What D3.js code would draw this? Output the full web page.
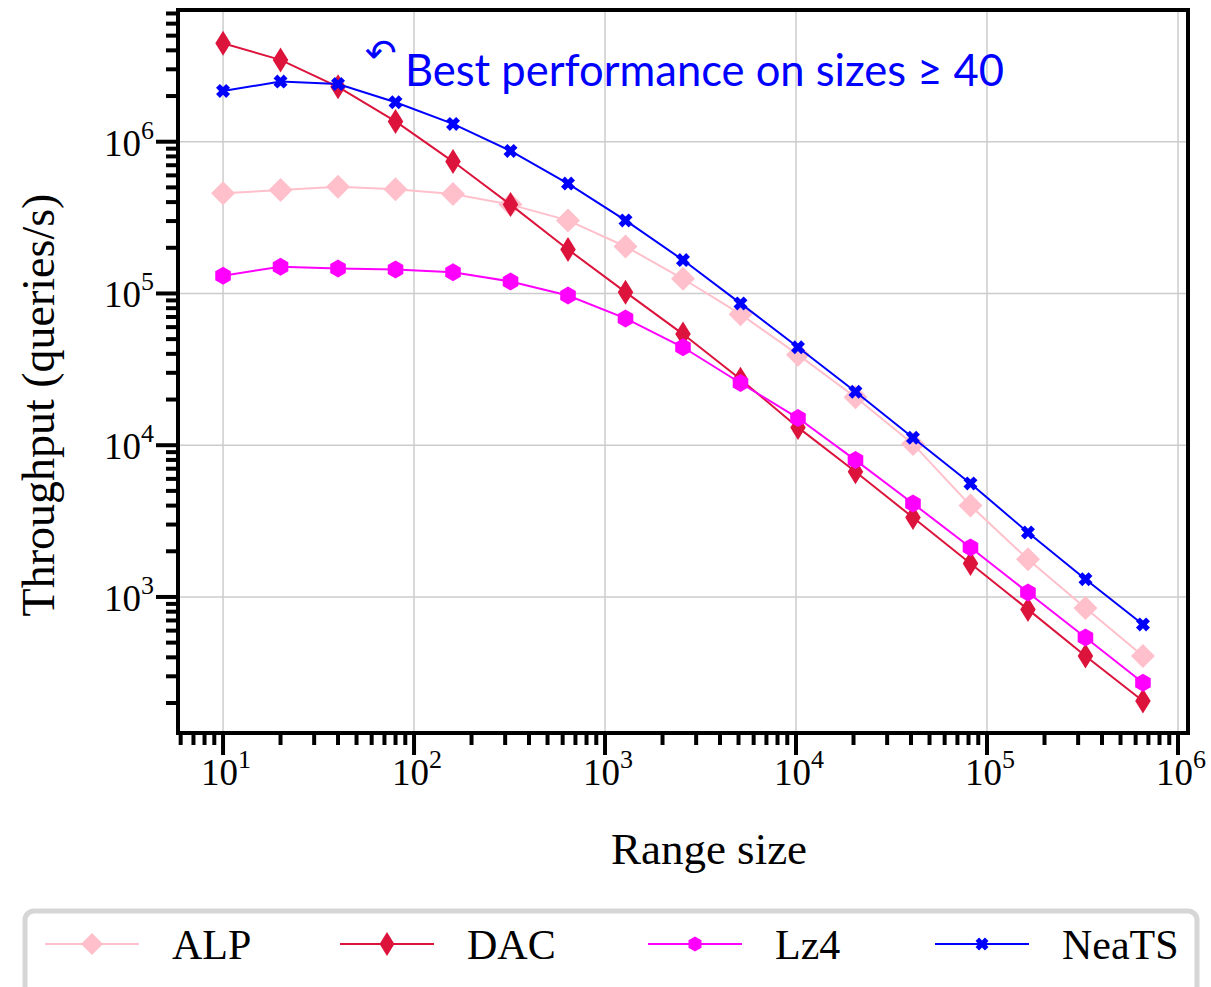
<!DOCTYPE html>
<html>
<head>
<meta charset="utf-8">
<script src="https://cdn.jsdelivr.net/npm/d3@7"></script>
<style>
  body { margin: 0; background: #fff; }
  svg { display: block; }
</style>
</head>
<body>
<div id="chart"></div>
<script>
// range sizes (x) and throughput per method (queries/s)
const rangeSizes = [10, 20, 40, 80, 160, 320, 640, 1280, 2560, 5120, 10240, 20480, 40960, 81920, 163840, 327680, 655360];
const alp = [4.57e5, 4.81e5, 5.05e5, 4.87e5, 4.52e5, 3.85e5, 3.03e5, 2.04e5, 1.25e5, 7.3e4, 3.95e4, 2.07e4, 1.02e4, 4.0e3, 1.77e3, 847, 408];
const dac = [4.46e6, 3.46e6, 2.3e6, 1.36e6, 7.4e5, 3.85e5, 1.95e5, 1.02e5, 5.4e4, 2.72e4, 1.31e4, 6.68e3, 3.34e3, 1.66e3, 828, 408, 206];
const lz4 = [1.31e5, 1.5e5, 1.46e5, 1.44e5, 1.38e5, 1.2e5, 9.7e4, 6.85e4, 4.42e4, 2.57e4, 1.51e4, 7.98e3, 4.13e3, 2.12e3, 1.07e3, 541, 272];
const neats = [2.16e6, 2.49e6, 2.4e6, 1.82e6, 1.31e6, 8.7e5, 5.3e5, 3.03e5, 1.66e5, 8.6e4, 4.42e4, 2.25e4, 1.12e4, 5.6e3, 2.66e3, 1.31e3, 659];

const seriesNames = ["ALP", "DAC", "Lz4", "NeaTS"];
const seriesColors = ["#ffc0cb", "#dc143c", "#ff00ff", "#0000ff"];
const seriesMarkers = ["diamond", "thinDiamond", "hexagon", "cross"];
const seriesValues = [alp, dac, lz4, neats];

const annotationText = "Best performance on sizes \u2265 40";

const width = 1211, height = 987;
const plot = { left: 178, right: 1188, top: 10, bottom: 733 };
const serif = "'Liberation Serif', 'DejaVu Serif', serif";

const svg = d3.select("#chart").append("svg")
    .attr("width", width)
    .attr("height", height);

const x = d3.scaleLog()
    .domain([5.81, 1.128e6])
    .range([plot.left, plot.right]);

const y = d3.scaleLog()
    .domain([10 ** 2.1035, 10 ** 6.868])
    .range([plot.bottom, plot.top]);

const isMajor = d => Math.abs(Math.log10(d) - Math.round(Math.log10(d))) < 1e-9;

// marker path builders, s = half size
function markerPath(type, s) {
    const p = d3.path();
    if (type === "diamond") {
        p.moveTo(0, -s); p.lineTo(s, 0); p.lineTo(0, s); p.lineTo(-s, 0); p.closePath();
    } else if (type === "thinDiamond") {
        const w = s * 0.62;
        p.moveTo(0, -s); p.lineTo(w, 0); p.lineTo(0, s); p.lineTo(-w, 0); p.closePath();
    } else if (type === "hexagon") {
        for (let i = 0; i < 6; i++) {
            const a = Math.PI / 2 + i * Math.PI / 3;
            const px = s * Math.cos(a), py = s * Math.sin(a);
            if (i === 0) p.moveTo(px, py); else p.lineTo(px, py);
        }
        p.closePath();
    } else if (type === "cross") {
        // thick x, arms nearly merged
        const t = s * 0.55;
        const pts = [[0, -t], [s - t, -s], [s, -s + t], [t, 0], [s, s - t], [s - t, s],
                     [0, t], [-s + t, s], [-s, s - t], [-t, 0], [-s, -s + t], [-s + t, -s]];
        pts.forEach((q, i) => i === 0 ? p.moveTo(q[0], q[1]) : p.lineTo(q[0], q[1]));
        p.closePath();
    }
    return p.toString();
}
const plotMarkerSize = { diamond: 12, thinDiamond: 12.5, hexagon: 9, cross: 7 };
const legendMarkerSize = { diamond: 11, thinDiamond: 12, hexagon: 7.5, cross: 6.5 };

// grid
const grid = svg.append("g").attr("class", "grid");
grid.selectAll("line.gx")
    .data(x.ticks().filter(isMajor))
    .enter().append("line")
    .attr("x1", d => x(d)).attr("x2", d => x(d))
    .attr("y1", plot.top).attr("y2", plot.bottom)
    .attr("stroke", "#cccccc").attr("stroke-width", 1.5);
grid.selectAll("line.gy")
    .data(y.ticks().filter(isMajor))
    .enter().append("line")
    .attr("y1", d => y(d)).attr("y2", d => y(d))
    .attr("x1", plot.left).attr("x2", plot.right)
    .attr("stroke", "#cccccc").attr("stroke-width", 1.5);

// series
const line = d3.line()
    .x(d => x(d[0]))
    .y(d => y(d[1]));

seriesNames.forEach((name, i) => {
    const pts = rangeSizes.map((s, j) => [s, seriesValues[i][j]]);
    const g = svg.append("g").attr("class", "series");
    g.append("path")
        .datum(pts)
        .attr("fill", "none")
        .attr("stroke", seriesColors[i])
        .attr("stroke-width", 2)
        .attr("d", line);
    g.selectAll("path.m")
        .data(pts)
        .enter().append("path")
        .attr("transform", d => `translate(${x(d[0])},${y(d[1])})`)
        .attr("d", markerPath(seriesMarkers[i], plotMarkerSize[seriesMarkers[i]]))
        .attr("fill", seriesColors[i]);
});

// frame
svg.append("rect")
    .attr("x", plot.left).attr("y", plot.top)
    .attr("width", plot.right - plot.left)
    .attr("height", plot.bottom - plot.top)
    .attr("fill", "none")
    .attr("stroke", "#000")
    .attr("stroke-width", 4);

// x ticks
const xAxis = svg.append("g").attr("class", "x-axis");
xAxis.selectAll("line")
    .data(x.ticks().filter(d => x(d) >= plot.left && x(d) <= plot.right))
    .enter().append("line")
    .attr("x1", d => x(d)).attr("x2", d => x(d))
    .attr("y1", plot.bottom)
    .attr("y2", d => plot.bottom + (isMajor(d) ? 22 : 12))
    .attr("stroke", "#000").attr("stroke-width", 4);
const xLabels = xAxis.selectAll("text")
    .data(x.ticks().filter(isMajor))
    .enter().append("text")
    .attr("x", d => x(d) + 3)
    .attr("y", 785)
    .attr("text-anchor", "middle")
    .style("font-family", serif)
    .style("font-size", "37px");
xLabels.append("tspan").text("10");
xLabels.append("tspan")
    .attr("dy", -17)
    .style("font-size", "26px")
    .text(d => Math.round(Math.log10(d)));

// y ticks
const yAxis = svg.append("g").attr("class", "y-axis");
yAxis.selectAll("line")
    .data(y.ticks().filter(d => y(d) >= plot.top && y(d) <= plot.bottom))
    .enter().append("line")
    .attr("y1", d => y(d)).attr("y2", d => y(d))
    .attr("x1", plot.left)
    .attr("x2", d => plot.left - (isMajor(d) ? 22 : 12))
    .attr("stroke", "#000").attr("stroke-width", 4);
const yLabels = yAxis.selectAll("text")
    .data(y.ticks().filter(isMajor))
    .enter().append("text")
    .attr("x", 154)
    .attr("y", d => y(d) + 14)
    .attr("text-anchor", "end")
    .style("font-family", serif)
    .style("font-size", "37px");
yLabels.append("tspan").text("10");
yLabels.append("tspan")
    .attr("dy", -17)
    .style("font-size", "26px")
    .text(d => Math.round(Math.log10(d)));

// axis titles
svg.append("text")
    .attr("x", 709).attr("y", 864)
    .attr("text-anchor", "middle")
    .style("font-family", serif)
    .style("font-size", "45px")
    .text("Range size");
svg.append("text")
    .attr("transform", "translate(54,405) rotate(-90)")
    .attr("text-anchor", "middle")
    .style("font-family", serif)
    .style("font-size", "46px")
    .text("Throughput (queries/s)");

// annotation
svg.append("text")
    .attr("x", 381).attr("y", 66)
    .attr("text-anchor", "middle")
    .attr("fill", "#0000ff")
    .style("font-family", "'DejaVu Sans', sans-serif")
    .style("font-size", "38px")
    .text("\u21B6");
svg.append("text")
    .attr("x", 405).attr("y", 86)
    .attr("fill", "#0000ff")
    .style("font-family", "Lato, 'Open Sans', sans-serif")
    .style("font-size", "43.5px")
    .text(annotationText);

// legend
const legend = svg.append("g").attr("class", "legend");
legend.append("rect")
    .attr("x", 25).attr("y", 911)
    .attr("width", 1172).attr("height", 100)
    .attr("rx", 9)
    .attr("fill", "#fff")
    .attr("stroke", "#d6d6d6")
    .attr("stroke-width", 5);
const legendX = [45, 340, 648, 935];
const legendY = 944;
seriesNames.forEach((name, i) => {
    const g = legend.append("g").attr("transform", `translate(${legendX[i]},${legendY})`);
    g.append("line")
        .attr("x1", 0).attr("x2", 94)
        .attr("stroke", seriesColors[i]).attr("stroke-width", 2);
    g.append("path")
        .attr("transform", "translate(47,0)")
        .attr("d", markerPath(seriesMarkers[i], legendMarkerSize[seriesMarkers[i]]))
        .attr("fill", seriesColors[i]);
    g.append("text")
        .attr("x", 127).attr("y", 15)
        .style("font-family", serif)
        .style("font-size", "42px")
        .text(name);
});
</script>
</body>
</html>
